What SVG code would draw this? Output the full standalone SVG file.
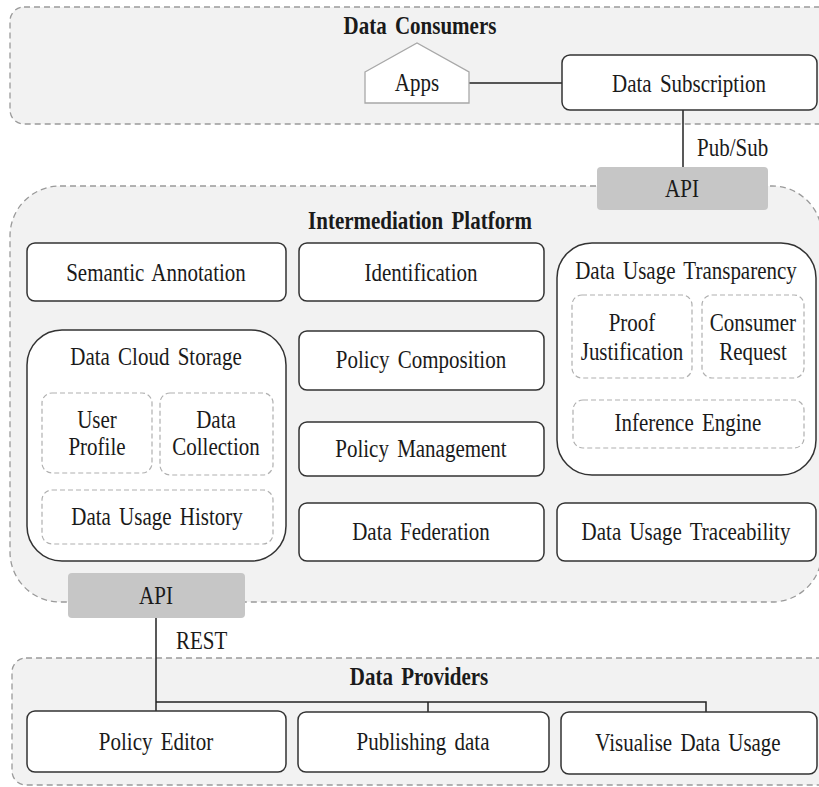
<svg xmlns="http://www.w3.org/2000/svg" width="819" height="787" viewBox="0 0 819 787" font-family="'Liberation Serif', 'DejaVu Serif', serif">
  <style>
    .zone { fill: #f2f2f2; stroke: #9a9a9a; stroke-width: 1.3; stroke-dasharray: 6 4; }
    .box { fill: #ffffff; stroke: #333333; stroke-width: 1.5; }
    .sub { fill: #ffffff; stroke: #b0b0b0; stroke-width: 1.2; stroke-dasharray: 5 3; }
    .api { fill: #c6c6c6; stroke: none; }
    .wire { fill: none; stroke: #222222; stroke-width: 1.5; }
    /* tall, narrow serif lettering */
    text { font-family: 'Liberation Serif', 'DejaVu Serif', serif; font-size: 21px; fill: #1a1a1a; word-spacing: 3px;
           transform-box: fill-box; transform-origin: center; transform: scaleY(1.15); }
    .c { text-anchor: middle; }
    .title { font-weight: bold; }
  </style>

  <!-- layer zones -->
  <g id="zone-consumers">
    <rect class="zone" x="10" y="7" width="830" height="117" rx="14"/>
    <text class="c title" x="420" y="33">Data Consumers</text>
  </g>
  <g id="zone-platform">
    <rect class="zone" x="10" y="186" width="812" height="416" rx="50"/>
    <text class="c title" x="420" y="228">Intermediation  Platform</text>
  </g>
  <g id="zone-providers">
    <rect class="zone" x="12" y="658" width="830" height="127" rx="14"/>
    <text class="c title" x="419" y="684">Data Providers</text>
  </g>

  <!-- connectors -->
  <g id="connectors">
    <line class="wire" x1="469" y1="83" x2="562" y2="83"/>
    <line class="wire" x1="683" y1="110" x2="683" y2="167"/>
    <text x="697" y="155">Pub/Sub</text>
    <line class="wire" x1="156" y1="618" x2="156" y2="711"/>
    <text x="176" y="648">REST</text>
    <polyline class="wire" points="156,702 706,702 706,712"/>
    <line class="wire" x1="428" y1="702" x2="428" y2="712"/>
  </g>

  <!-- consumers -->
  <g id="apps">
    <polygon points="365,72 417,43 469,72 469,103 365,103" fill="#ffffff" stroke="#a8a8a8" stroke-width="1.3"/>
    <text class="c" x="417" y="90">Apps</text>
  </g>
  <g id="data-subscription">
    <rect class="box" x="562" y="55" width="255" height="55" rx="8"/>
    <text class="c" x="689" y="91">Data Subscription</text>
  </g>
  <g id="api-top">
    <rect class="api" x="597" y="167" width="171" height="43" rx="4"/>
    <text class="c" x="682" y="196">API</text>
  </g>

  <!-- platform services -->
  <g id="semantic-annotation">
    <rect class="box" x="27" y="243" width="259" height="58" rx="8"/>
    <text class="c" x="156" y="280">Semantic  Annotation</text>
  </g>
  <g id="identification">
    <rect class="box" x="299" y="243" width="245" height="58" rx="8"/>
    <text class="c" x="421" y="280">Identification</text>
  </g>
  <g id="data-usage-transparency">
    <rect class="box" x="557" y="243" width="259" height="232" rx="35"/>
    <text class="c" x="686" y="278">Data Usage  Transparency</text>
    <g id="proof-justification">
      <rect class="sub" x="572" y="295" width="120" height="83" rx="10"/>
      <text class="c" x="632" y="330">Proof</text>
      <text class="c" x="632" y="359">Justification</text>
    </g>
    <g id="consumer-request">
      <rect class="sub" x="702" y="295" width="102" height="83" rx="10"/>
      <text class="c" x="753" y="330">Consumer</text>
      <text class="c" x="753" y="359">Request</text>
    </g>
    <g id="inference-engine">
      <rect class="sub" x="573" y="400" width="231" height="48" rx="10"/>
      <text class="c" x="688" y="430">Inference  Engine</text>
    </g>
  </g>
  <g id="data-cloud-storage">
    <rect class="box" x="27" y="330" width="259" height="231" rx="35"/>
    <text class="c" x="156" y="364">Data Cloud Storage</text>
    <g id="user-profile">
      <rect class="sub" x="42" y="393" width="110" height="80" rx="10"/>
      <text class="c" x="97" y="427">User</text>
      <text class="c" x="97" y="454">Profile</text>
    </g>
    <g id="data-collection">
      <rect class="sub" x="160" y="393" width="113" height="82" rx="10"/>
      <text class="c" x="216" y="427">Data</text>
      <text class="c" x="216" y="454">Collection</text>
    </g>
    <g id="data-usage-history">
      <rect class="sub" x="42" y="490" width="231" height="54" rx="10"/>
      <text class="c" x="157" y="524">Data Usage  History</text>
    </g>
  </g>
  <g id="policy-composition">
    <rect class="box" x="299" y="331" width="245" height="59" rx="8"/>
    <text class="c" x="421" y="367">Policy  Composition</text>
  </g>
  <g id="policy-management">
    <rect class="box" x="299" y="422" width="245" height="54" rx="8"/>
    <text class="c" x="421" y="456">Policy  Management</text>
  </g>
  <g id="data-federation">
    <rect class="box" x="299" y="503" width="245" height="58" rx="8"/>
    <text class="c" x="421" y="539">Data Federation</text>
  </g>
  <g id="data-usage-traceability">
    <rect class="box" x="557" y="503" width="259" height="58" rx="8"/>
    <text class="c" x="686" y="539">Data Usage  Traceability</text>
  </g>
  <g id="api-bottom">
    <rect class="api" x="68" y="573" width="177" height="45" rx="4"/>
    <text class="c" x="156" y="603">API</text>
  </g>

  <!-- providers -->
  <g id="policy-editor">
    <rect class="box" x="27" y="711" width="259" height="61" rx="8"/>
    <text class="c" x="156" y="749">Policy  Editor</text>
  </g>
  <g id="publishing-data">
    <rect class="box" x="298" y="712" width="251" height="60" rx="8"/>
    <text class="c" x="423" y="749">Publishing  data</text>
  </g>
  <g id="visualise-data-usage">
    <rect class="box" x="561" y="712" width="256" height="62" rx="8"/>
    <text class="c" x="688" y="750">Visualise  Data Usage</text>
  </g>
</svg>
